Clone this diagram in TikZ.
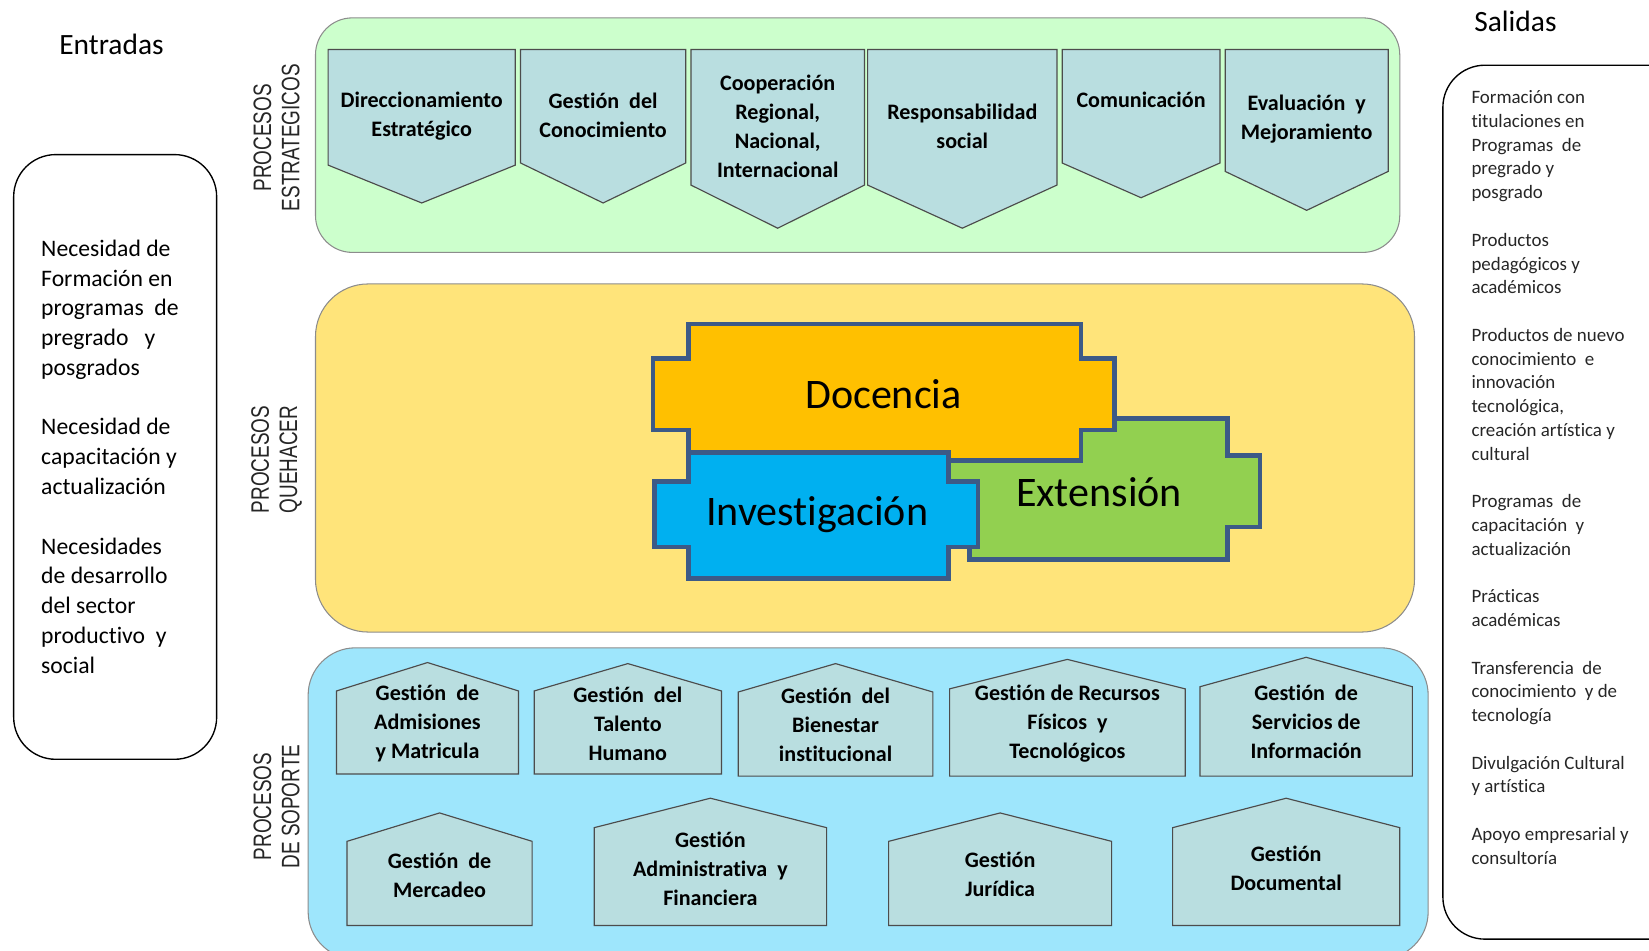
\documentclass[tikz,border=0pt]{standalone}
\usepackage{fontspec}
\setmainfont{Carlito}[Ligatures=NoCommon]
\newfontfamily\arialfont{Liberation Sans}
\usetikzlibrary{positioning}

\definecolor{verdeClaro}{RGB}{204,255,204}
\definecolor{amarillo}{RGB}{255,228,122}
\definecolor{celeste}{RGB}{158,230,252}
\definecolor{grisAzul}{RGB}{185,222,224}
\definecolor{borde}{RGB}{60,90,135}
\definecolor{naranja}{RGB}{255,192,0}
\definecolor{azul}{RGB}{0,176,240}
\definecolor{verde}{RGB}{146,208,80}

% chevron: name, x left, x right, y bottom, y tip, y text, text
\newcommand{\estrategico}[7]{%
  \draw[chevron] (#2,47) -- (#3,47) -- (#3,#4) -- ({(#2+#3)/2},#5) -- (#2,#4) -- cycle;
  \node[chevron text] (#1) at ({(#2+#3)/2},#6) {#7};}
% casa: name, x left, x right, y apex, y shoulder, y bottom, y text, text
\newcommand{\soporte}[8]{%
  \draw[casa] (#2,#6) -- (#2,#5) -- ({(#2+#3)/2},#4) -- (#3,#5) -- (#3,#6) -- cycle;
  \node[chevron text] (#1) at ({(#2+#3)/2},#7) {#8};}

\begin{document}
\begin{tikzpicture}[x=1pt, y=-1pt,
            contenedor/.style={draw=black!45, line width=1pt},
            caja/.style={draw=black, line width=1.3pt, rounded corners=40pt},
            chevron/.style={draw=black!70, line width=1.1pt, fill=grisAzul, line join=miter},
            casa/.style={draw=black!70, line width=1.1pt, fill=grisAzul, line join=miter},
            chevron text/.style={align=center, inner sep=0pt, font=\bfseries\fontsize{21}{27.5}\selectfont},
            bloque/.style={draw=borde, line width=4.5pt, line join=miter},
            bloque text/.style={inner sep=0pt, font=\fontsize{40}{44}\selectfont},
            vertical/.style={rotate=90, xscale=0.75, align=center, inner sep=0pt, text=black!85,
                             font=\arialfont\fontsize{24}{27}\selectfont},
            titulo/.style={inner sep=0pt, font=\fontsize{28}{32}\selectfont}]
  \useasboundingbox (0,0) rectangle (1568,904);
  \clip (0,0) rectangle (1568,904);

  % entradas y salidas
  \node[titulo] (entradas) at (106,42) {Entradas};
  \node[titulo] (salidas) at (1441,20) {Salidas};
  \draw[caja] (13,147) rectangle (206,722);
  \draw[caja] (1372,62) rectangle (1620,893);
  \node[anchor=north west, align=left, inner sep=0pt,
        font=\fontsize{22.5}{28.3}\selectfont] (necesidades) at (39,228)
    {Necesidad de\\ Formación en\\ programas~ de\\ pregrado~~ y\\ posgrados\\[28.3pt]
     Necesidad de\\ capacitación y\\ actualización\\[28.3pt]
     Necesidades\\ de desarrollo\\ del sector\\ productivo~ y\\ social};
  \node[anchor=north west, align=left, inner sep=0pt, text=black!85,
        font=\fontsize{18}{22.6}\selectfont] (productos) at (1399,86)
    {Formación con\\ titulaciones en\\ Programas~ de\\ pregrado y\\ posgrado\\[22.6pt]
     Productos\\ pedagógicos y\\ académicos\\[22.6pt]
     Productos de nuevo\\ conocimiento~ e\\ innovación\\ tecnológica,\\ creación artística y\\ cultural\\[22.6pt]
     Programas~ de\\ capacitación~ y\\ actualización\\[22.6pt]
     Prácticas\\ académicas\\[22.6pt]
     Transferencia~ de\\ conocimiento~ y de\\ tecnología\\[22.6pt]
     Divulgación Cultural\\ y artística\\[22.6pt]
     Apoyo empresarial y\\ consultoría};

  % procesos estrategicos
  \draw[contenedor, fill=verdeClaro, rounded corners=35pt] (300,17) rectangle (1331,240);
  \node[vertical] (estrategicos) at (263,131) {PROCESOS\\ ESTRATEGICOS};
  \estrategico{direccionamiento}{312}{490}{157}{193}{110}{Direccionamiento\\ Estratégico}
  \estrategico{conocimiento}{495}{652}{155}{193}{110}{Gestión~ del\\ Conocimiento}
  \estrategico{cooperacion}{657}{822}{176}{217}{120}{Cooperación\\ Regional,\\ Nacional,\\ Internacional}
  \estrategico{responsabilidad}{825}{1005}{176}{217}{120}{Responsabilidad\\ social}
  \estrategico{comunicacion}{1010}{1160}{155}{188}{95}{Comunicación}
  \estrategico{evaluacion}{1165}{1320}{163}{200}{113}{Evaluación~ y\\ Mejoramiento}

  % procesos quehacer
  \draw[contenedor, fill=amarillo, rounded corners=50pt] (300,270) rectangle (1345,601);
  \node[vertical] (quehacer) at (263,437) {PROCESOS\\ QUEHACER};
  \draw[bloque, fill=verde] (922,398) -- (1167,398) -- (1167,433) -- (1198,433) -- (1198,501)
    -- (1167,501) -- (1167,532) -- (922,532) -- (922,501) -- (895,501) -- (895,433) -- (922,433) -- cycle;
  \draw[bloque, fill=naranja] (655,308) -- (1028,308) -- (1028,341) -- (1060,341) -- (1060,409)
    -- (1028,409) -- (1028,438) -- (655,438) -- (655,409) -- (621,409) -- (621,341) -- (655,341) -- cycle;
  \draw[bloque, fill=azul] (655,430) -- (902,430) -- (902,458) -- (930,458) -- (930,520)
    -- (902,520) -- (902,550) -- (655,550) -- (655,520) -- (622,520) -- (622,458) -- (655,458) -- cycle;
  \node[bloque text] (docencia) at (840,375) {Docencia};
  \node[bloque text] (extension) at (1045,468) {Extensión};
  \node[bloque text] (investigacion) at (777,489) {Investigación};

  % procesos de soporte
  \draw[contenedor, fill=celeste, rounded corners=45pt] (293,616) rectangle (1358,912);
  \node[vertical] (soporte) at (263,767) {PROCESOS\\ DE SOPORTE};
  \soporte{admisiones}{320}{493}{630}{657}{736}{688}{Gestión~ de\\ Admisiones\\ y Matricula}
  \soporte{talento}{508}{686}{631}{657}{736}{688}{Gestión~ del\\ Talento\\ Humano}
  \soporte{bienestar}{702}{887}{631}{658}{738}{689}{Gestión~ del\\ Bienestar\\ institucional}
  \soporte{recursos}{903}{1127}{627}{655}{738}{688}{Gestión de Recursos\\ Físicos~ y\\ Tecnológicos}
  \soporte{servicios}{1141}{1343}{625}{653}{738}{686}{Gestión~ de\\ Servicios de\\ Información}
  \soporte{mercadeo}{330}{506}{773}{800}{880}{832}{Gestión~ de\\ Mercadeo}
  \soporte{administrativa}{565}{786}{759}{787}{880}{826}{Gestión\\ Administrativa~ y\\ Financiera}
  \soporte{juridica}{845}{1057}{773}{800}{880}{831}{Gestión\\ Jurídica}
  \soporte{documental}{1115}{1331}{759}{787}{880}{826}{Gestión\\ Documental}
\end{tikzpicture}
\end{document}
